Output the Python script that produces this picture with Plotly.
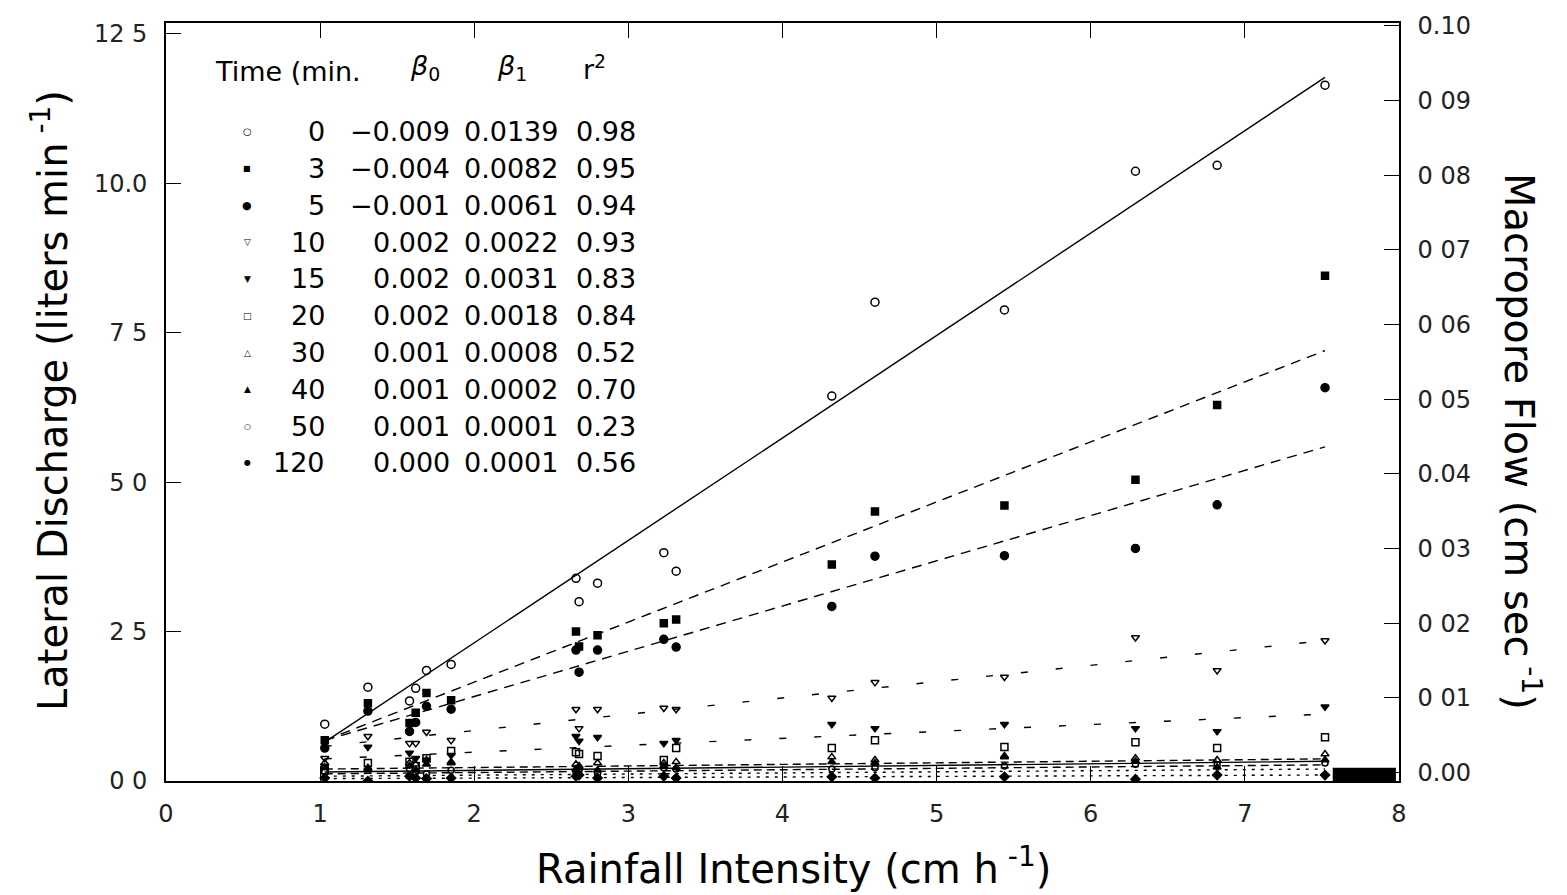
import plotly.graph_objects as go

# ---------------- data ----------------
rain = [1.03, 1.31, 1.58, 1.62, 1.69, 1.85, 2.66, 2.68, 2.80, 3.23, 3.31,
        4.32, 4.60, 5.44, 6.29, 6.82, 7.52]

times = [0, 3, 5, 10, 15, 20, 30, 40, 50, 120]

q_0 = [0.95, 1.57, 1.34, 1.55, 1.85, 1.95, 3.39, 3.00, 3.31, 3.82, 3.51, 6.44, 8.01, 7.88, 10.20, 10.30, 11.64]
q_3 = [0.68, 1.30, 0.97, 1.14, 1.47, 1.35, 2.50, 2.25, 2.44, 2.64, 2.70, 3.62, 4.51, 4.61, 5.04, 6.29, 8.45]
q_5 = [0.55, 1.17, 0.83, 0.98, 1.25, 1.20, 2.19, 1.82, 2.19, 2.37, 2.24, 2.92, 3.76, 3.77, 3.89, 4.62, 6.58]
q_10 = [0.38, 0.75, 0.63, 0.63, 0.82, 0.68, 1.20, 0.88, 1.20, 1.22, 1.20, 1.39, 1.65, 1.74, 2.40, 1.85, 2.35]
q_15 = [0.25, 0.57, 0.47, 0.38, 0.35, 0.43, 0.75, 0.67, 0.73, 0.63, 0.68, 0.95, 0.88, 0.95, 0.88, 0.83, 1.24]
q_20 = [0.18, 0.30, 0.32, 0.25, 0.38, 0.50, 0.48, 0.45, 0.42, 0.35, 0.55, 0.55, 0.68, 0.57, 0.65, 0.55, 0.73]
q_30 = [0.30, 0.22, 0.30, 0.28, 0.35, 0.32, 0.28, 0.25, 0.30, 0.30, 0.32, 0.40, 0.35, 0.42, 0.38, 0.35, 0.45]
q_40 = [0.22, 0.20, 0.25, 0.18, 0.28, 0.30, 0.20, 0.22, 0.18, 0.25, 0.22, 0.32, 0.30, 0.40, 0.33, 0.23, 0.35]
q_50 = [0.15, 0.18, 0.20, 0.15, 0.12, 0.18, 0.15, 0.18, 0.12, 0.22, 0.20, 0.20, 0.22, 0.25, 0.28, 0.27, 0.30]
q_120 = [0.05, 0.00, 0.08, 0.05, 0.04, 0.05, 0.08, 0.10, 0.05, 0.08, 0.05, 0.07, 0.05, 0.07, 0.03, 0.10, 0.10]
series = [q_0, q_3, q_5, q_10, q_15, q_20, q_30, q_40, q_50, q_120]

# fitted lines (as drawn), L/min at the first and last rainfall intensity
fit_x = [1.03, 7.52]
fit_start = [0.65, 0.68, 0.68, 0.58, 0.37, 0.15, 0.20, 0.12, 0.08, 0.04]
fit_end = [11.77, 7.20, 5.59, 2.35, 1.12, 0.33, 0.37, 0.27, 0.20, 0.10]

# regression table text
beta0 = ["\u22120.009", "\u22120.004", "\u22120.001", "0.002", "0.002", "0.002", "0.001", "0.001", "0.001", "0.000"]
beta1 = ["0.0139", "0.0082", "0.0061", "0.0022", "0.0031", "0.0018", "0.0008", "0.0002", "0.0001", "0.0001"]
r2 = ["0.98", "0.95", "0.94", "0.93", "0.83", "0.84", "0.52", "0.70", "0.23", "0.56"]

x_ticks = [0, 1, 2, 3, 4, 5, 6, 7, 8]
y_ticks = [0, 2.5, 5.0, 7.5, 10.0, 12.5]
y_ticklabels = ["0 0", "2 5", "5 0", "7 5", "10.0", "12 5"]
y2_ticks = [0.0, 0.01, 0.02, 0.03, 0.04, 0.05, 0.06, 0.07, 0.08, 0.09, 0.10]
y2_ticklabels = ["0.00", "0 01", "0 02", "0 03", "0.04", "0 05", "0 06", "0 07", "0 08", "0 09", "0.10"]

# ---------------- styles ----------------
symbols = ["circle-open", "square", "circle", "triangle-down-open", "triangle-down",
           "square-open", "triangle-up-open", "triangle-up", "circle-open", "diamond"]
sizes = [8, 7, 8, 7, 7, 7, 7, 7, 6, 7]
glyphs = ["\u25cb", "\u25a0", "\u25cf", "\u25bd", "\u25bc", "\u25a1", "\u25b3", "\u25b2", "\u25cb", "\u25cf"]
glyph_sizes = [10, 8, 11, 9, 9, 9, 9, 9, 8, 8]
dashes = ["solid", "10px,7px", "10px,7px", "7px,28px", "7px,28px",
          "solid", "8px,5px", "8px,5px", "3px,6px", "3px,6px"]

W, H = 1567, 895
L, R, T, B = 166, 1399, 21, 781
FONT = "DejaVu Sans"

fig = go.Figure()

for i, t in enumerate(times):
    fig.add_trace(go.Scatter(
        x=fit_x, y=[fit_start[i], fit_end[i]], mode="lines",
        line=dict(color="black", width=1.4, dash=dashes[i]),
        showlegend=False, hoverinfo="skip"))

for i, t in enumerate(times):
    fig.add_trace(go.Scatter(
        x=rain, y=series[i], mode="markers", name=f"{t} min",
        marker=dict(symbol=symbols[i], size=sizes[i], color="black",
                    line=dict(color="black", width=1.5)),
        showlegend=False))

# dummy trace for right axis
fig.add_trace(go.Scatter(x=[None], y=[None], yaxis="y2", showlegend=False))


def px(x):
    return (x - L) / (R - L)


def py(y):
    return (B - y) / (B - T)


ann = []
TSIZE = 27
# table header
ann.append(dict(x=px(213), y=py(70), xref="paper", yref="paper", text="Time (min.",
                showarrow=False, xanchor="left", yanchor="middle",
                font=dict(family=FONT, size=TSIZE, color="black")))
for cx, txt in [(425, "<i>\u03b2</i><sub>0</sub>"), (512, "<i>\u03b2</i><sub>1</sub>"),
                (594, "r<sup>2</sup>")]:
    ann.append(dict(x=px(cx), y=py(66), xref="paper", yref="paper", text=txt,
                    showarrow=False, xanchor="center", yanchor="middle",
                    font=dict(family=FONT, size=TSIZE, color="black")))
# table rows
for i, t in enumerate(times):
    yy = py(130 + i * 36.9)
    ann.append(dict(x=px(247), y=yy, xref="paper", yref="paper", text=glyphs[i],
                    showarrow=False, xanchor="center", yanchor="middle",
                    font=dict(family=FONT, size=glyph_sizes[i], color="black")))
    for rx, txt in [(327, str(t)), (452, beta0[i]), (560, beta1[i]), (638, r2[i])]:
        ann.append(dict(x=px(rx), y=yy, xref="paper", yref="paper", text=txt,
                        showarrow=False, xanchor="right", yanchor="middle",
                        font=dict(family=FONT, size=TSIZE, color="black")))

# axis titles
ann.append(dict(x=px(50), y=py(400), xref="paper", yref="paper",
                text="Lateral Discharge (liters min<sup> -1</sup>)", textangle=-90,
                showarrow=False, xanchor="center", yanchor="middle",
                font=dict(family=FONT, size=40, color="black")))
ann.append(dict(x=px(1522), y=py(440), xref="paper", yref="paper",
                text="Macropore Flow (cm sec<sup> -1</sup>)", textangle=90,
                showarrow=False, xanchor="center", yanchor="middle",
                font=dict(family=FONT, size=40, color="black")))
ann.append(dict(x=px(793), y=py(866), xref="paper", yref="paper",
                text="Rainfall Intensity (cm h<sup> -1</sup>)",
                showarrow=False, xanchor="center", yanchor="middle",
                font=dict(family=FONT, size=40, color="black")))

tickfont = dict(family=FONT, size=24, color="#222")

fig.update_layout(
    width=W, height=H,
    margin=dict(l=L, r=W - R, t=T, b=H - B),
    paper_bgcolor="white", plot_bgcolor="white",
    showlegend=False,
    annotations=ann,
    shapes=[dict(type="rect", xref="x", yref="y", x0=7.57, x1=7.98, y0=0, y1=0.22,
                 fillcolor="black", line=dict(width=0))],
    xaxis=dict(range=[0, 8], tickvals=x_ticks, ticktext=[str(v) for v in x_ticks],
               ticks="inside", ticklen=15, tickwidth=1.3, tickcolor="black",
               showline=True, linecolor="black", linewidth=1.6, mirror="ticks",
               showgrid=False, zeroline=False, tickfont=tickfont,
               ticklabelstandoff=10),
    yaxis=dict(range=[0, 12.68], tickvals=y_ticks, ticktext=y_ticklabels,
               ticks="inside", ticklen=15, tickwidth=1.3, tickcolor="black",
               showline=True, linecolor="black", linewidth=1.6,
               showgrid=False, zeroline=False, tickfont=tickfont,
               ticklabelstandoff=12),
    yaxis2=dict(range=[-0.00112, 0.1004], overlaying="y", side="right",
                tickvals=y2_ticks, ticktext=y2_ticklabels,
                ticks="inside", ticklen=15, tickwidth=1.3, tickcolor="black",
                showline=True, linecolor="black", linewidth=1.6,
                showgrid=False, zeroline=False, tickfont=tickfont,
                ticklabelstandoff=12),
)

fig.write_html("out.html", config={"displayModeBar": False},
               post_script="document.body.style.margin='0';document.body.style.overflow='hidden';")
